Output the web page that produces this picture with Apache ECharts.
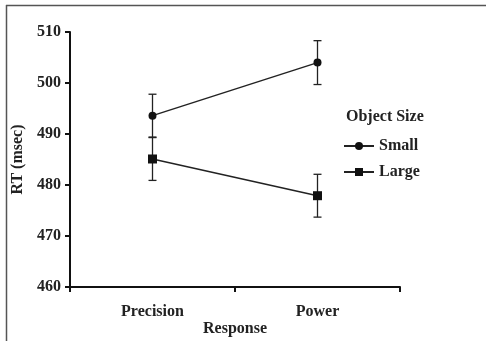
<!DOCTYPE html>
<html><head><meta charset="utf-8">
<script src="https://cdn.jsdelivr.net/npm/echarts@6/dist/echarts.min.js"></script>
<style>html,body{margin:0;padding:0;background:#fff}#c{width:486px;height:341px}</style>
</head><body><div id="c"></div>
<script>
const categories = ["Precision", "Power"];
const smallMeans = [493.6, 504.0];
const smallErr = [4.2, 4.3];
const largeMeans = [485.1, 477.9];
const largeErr = [4.2, 4.2];
const yTicks = [460, 470, 480, 490, 500, 510];

const FONT = "Liberation Serif";
const chart = echarts.init(document.getElementById('c'));

function errData(means, errs) {
  return means.map((m, i) => [i, m - errs[i], m + errs[i]]);
}
function errSeries(name, means, errs) {
  return {
    type: 'custom', name: name + '_err', z: 1,
    data: errData(means, errs),
    renderItem: function (params, api) {
      const x = api.value(0);
      const lo = api.coord([x, api.value(1)]);
      const hi = api.coord([x, api.value(2)]);
      const w = 4;
      const st = { stroke: '#222', lineWidth: 1.3 };
      return { type: 'group', children: [
        { type: 'line', shape: { x1: lo[0], y1: lo[1], x2: hi[0], y2: hi[1] }, style: st },
        { type: 'line', shape: { x1: lo[0] - w, y1: lo[1], x2: lo[0] + w, y2: lo[1] }, style: st },
        { type: 'line', shape: { x1: hi[0] - w, y1: hi[1], x2: hi[0] + w, y2: hi[1] }, style: st }
      ]};
    },
    silent: true
  };
}

chart.setOption({
  animation: false,
  grid: { left: 70, right: 86, top: 32, bottom: 54, containLabel: false, outerBoundsMode: 'none' },
  xAxis: {
    type: 'category', data: categories, boundaryGap: true,
    axisLine: { lineStyle: { color: '#111', width: 2 } },
    axisTick: { show: true, alignWithLabel: false, length: 5, inside: false, lineStyle: { color: '#111', width: 2 } },
    axisLabel: { fontFamily: FONT, fontWeight: 'bold', fontSize: 16, color: '#222', margin: 17 },
    name: 'Response', nameLocation: 'middle', nameGap: 34, nameMoveOverlap: false,
    nameTextStyle: { fontFamily: FONT, fontWeight: 'bold', fontSize: 16, color: '#222' }
  },
  yAxis: {
    type: 'value', min: yTicks[0], max: yTicks[yTicks.length - 1], interval: 10,
    splitLine: { show: false },
    axisLine: { show: true, lineStyle: { color: '#111', width: 2 } },
    axisTick: { show: true, length: 5, lineStyle: { color: '#111', width: 2 } },
    axisLabel: { fontFamily: FONT, fontWeight: 'bold', fontSize: 16, color: '#222', margin: 9 },
    name: 'RT (msec)', nameLocation: 'middle', nameGap: 44, nameRotate: 90, nameMoveOverlap: false,
    nameTextStyle: { fontFamily: FONT, fontWeight: 'bold', fontSize: 16, color: '#222' }
  },
  legend: {
    orient: 'vertical', left: 343, top: 138, padding: 0, itemGap: 10, itemWidth: 30, itemHeight: 10,
    data: ['Small', 'Large'],
    textStyle: { fontFamily: FONT, fontWeight: 'bold', fontSize: 16, lineHeight: 16, color: '#222' }
  },
  graphic: [
    { type: 'text', left: 346, top: 109, style: { text: 'Object Size', font: 'bold 16px "Liberation Serif"', fill: '#222' } },
    { type: 'line', shape: { x1: 6, y1: 5.5, x2: 486, y2: 5.5 }, style: { stroke: '#555', lineWidth: 1.5 } },
    { type: 'line', shape: { x1: 6.5, y1: 5, x2: 6.5, y2: 341 }, style: { stroke: '#555', lineWidth: 1.5 } }
  ],
  series: [
    errSeries('Small', smallMeans, smallErr),
    errSeries('Large', largeMeans, largeErr),
    { name: 'Small', type: 'line', data: smallMeans, symbol: 'circle', symbolSize: 8, z: 3,
      lineStyle: { color: '#222', width: 1.5 }, itemStyle: { color: '#111' } },
    { name: 'Large', type: 'line', data: largeMeans, symbol: 'rect', symbolSize: 9, z: 3,
      lineStyle: { color: '#222', width: 1.5 }, itemStyle: { color: '#111' } }
  ]
});
</script></body></html>
